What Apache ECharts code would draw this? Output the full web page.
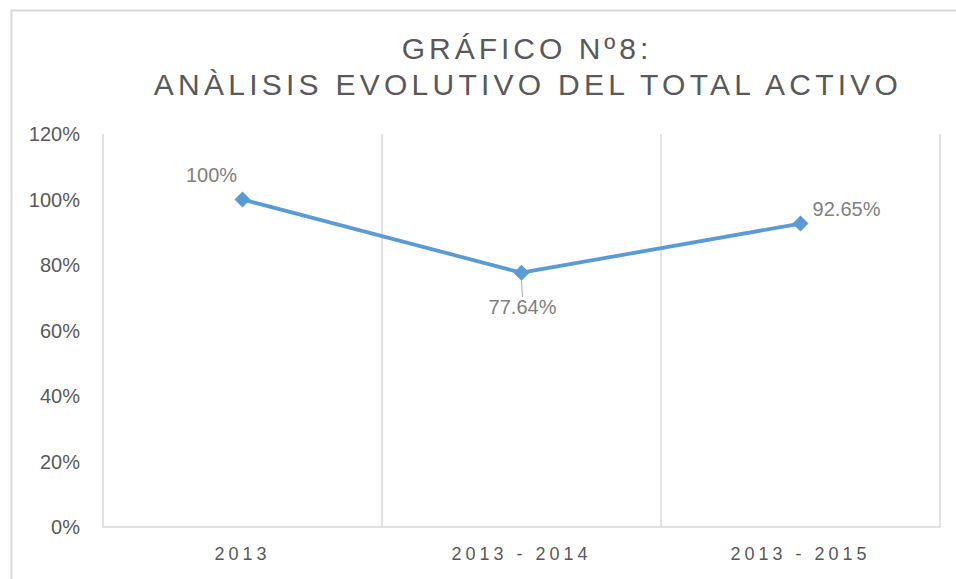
<!DOCTYPE html>
<html>
<head>
<meta charset="utf-8">
<script src="https://cdn.jsdelivr.net/npm/echarts@6/dist/echarts.min.js"></script>
<style>
html,body{margin:0;padding:0;background:#fff;}
#c{width:956px;height:579px;}
</style>
</head>
<body>
<div id="c"></div>
<script>
var titleLines = ['GRÁFICO Nº8:', 'ANÀLISIS EVOLUTIVO DEL TOTAL ACTIVO'];
var categories = ['2013', '2013 - 2014', '2013 - 2015'];
var values = [100, 77.64, 92.65];
var valueLabels = ['100%', '77.64%', '92.65%'];
var yTicks = [0, 20, 40, 60, 80, 100, 120];

var labelOffsets = [[-31, -25], [1, 34], [46, -15]];

var chart = echarts.init(document.getElementById('c'), null, {renderer: 'svg'});

var seriesData = values.map(function (v, i) {
  var d = {value: v};
  if (i === 1) {
    d.labelLine = {show: true, lineStyle: {color: '#a6a6a6', width: 1}};
  }
  return d;
});

var option = {
  animation: false,
  backgroundColor: '#ffffff',
  graphic: [
    {
      type: 'rect', left: 9, top: 8, z: 0, silent: true,
      shape: {width: 960, height: 600},
      style: {fill: 'none', stroke: '#d9d9d9', lineWidth: 2}
    },
    {
      type: 'text', x: 527, y: 48, silent: true,
      style: {text: titleLines[0], fill: '#595959', font: '30px "Liberation Sans", Arial, sans-serif', align: 'center', verticalAlign: 'middle'}
    },
    {
      type: 'text', x: 528, y: 84, silent: true,
      style: {text: titleLines[1], fill: '#595959', font: '30px "Liberation Sans", Arial, sans-serif', align: 'center', verticalAlign: 'middle'}
    }
  ],
  grid: {left: 103, right: 16, top: 134, bottom: 52, containLabel: false},
  xAxis: {
    type: 'category',
    data: categories,
    boundaryGap: true,
    axisLine: {show: true, lineStyle: {color: '#d9d9d9', width: 1.5}},
    axisTick: {show: false},
    axisLabel: {color: '#595959', fontSize: 18, fontFamily: '"Liberation Sans", Arial, sans-serif', margin: 18},
    splitLine: {show: true, lineStyle: {color: '#d9d9d9', width: 1.5}}
  },
  yAxis: {
    type: 'value',
    min: yTicks[0],
    max: yTicks[yTicks.length - 1],
    interval: 20,
    axisLine: {show: false},
    axisTick: {show: false},
    splitLine: {show: false},
    axisLabel: {color: '#595959', fontSize: 20, fontFamily: '"Liberation Sans", Arial, sans-serif', margin: 23, formatter: '{value}%'}
  },
  series: [{
    type: 'line',
    data: seriesData,
    symbol: 'diamond',
    symbolSize: 16,
    lineStyle: {color: '#5b9bd5', width: 3.8},
    itemStyle: {color: '#5b9bd5'},
    label: {
      show: true,
      position: 'inside',
      color: '#7f7f7f',
      fontSize: 20,
      fontFamily: '"Liberation Sans", Arial, sans-serif',
      formatter: function (p) { return valueLabels[p.dataIndex]; }
    },
    labelLayout: function (p) {
      var o = labelOffsets[p.dataIndex];
      return {dx: o[0], dy: o[1]};
    },
    emphasis: {disabled: true}
  }]
};

chart.setOption(option);

function applySpacing() {
  var texts = document.querySelectorAll('#c svg text');
  texts.forEach(function (t) {
    var s = t.textContent;
    if (s === titleLines[0]) {
      t.style.letterSpacing = '4px';
    } else if (s === titleLines[1]) {
      t.style.letterSpacing = '4.25px';
    } else if (categories.indexOf(s) >= 0) {
      t.style.letterSpacing = '4px';
    }
  });
}
chart.getZr().flush();
applySpacing();
chart.on('finished', applySpacing);
setTimeout(applySpacing, 50);
</script>
</body>
</html>
